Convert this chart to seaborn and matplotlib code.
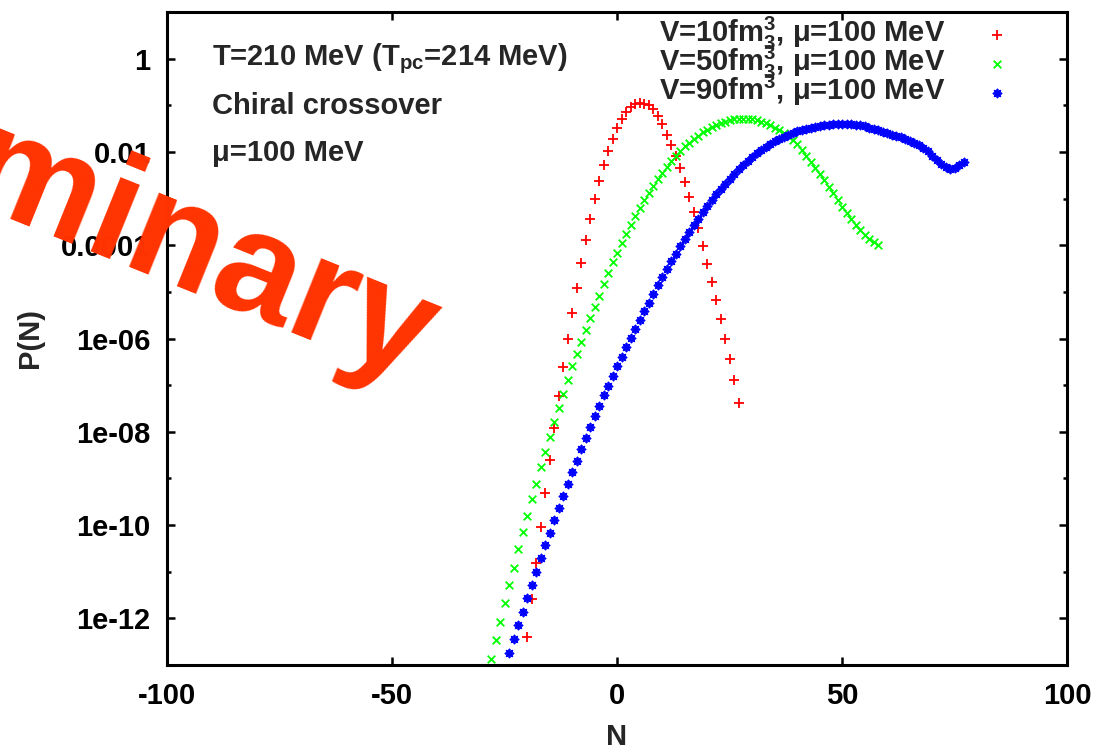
import numpy as np
import pandas as pd
import matplotlib
matplotlib.use("Agg")
import matplotlib.pyplot as plt
import seaborn as sns
from matplotlib.ticker import FixedLocator, FixedFormatter, NullFormatter

# ---------------- data ----------------
red_N = np.arange(-20, 28)
red_log10P = [-12.39, -11.58, -10.81, -10.05, -9.31, -8.60, -7.91, -7.24, -6.62, -6.02,
              -5.46, -4.91, -4.38, -3.89, -3.43, -3.00, -2.62, -2.28, -1.98, -1.72,
              -1.49, -1.30, -1.15, -1.04, -0.98, -0.96, -0.97, -1.00, -1.08, -1.22,
              -1.40, -1.63, -1.85, -2.08, -2.35, -2.64, -2.96, -3.29, -3.64, -4.02,
              -4.40, -4.78, -5.18, -5.59, -6.00, -6.44, -6.90, -7.39]

green_N = np.arange(-28, 59)
green_log10P = [-12.88, -12.47, -12.08, -11.68, -11.29, -10.91, -10.52, -10.15, -9.80, -9.45,
                -9.11, -8.76, -8.44, -8.11, -7.80, -7.49, -7.19, -6.89, -6.60, -6.33,
                -6.07, -5.82, -5.57, -5.33, -5.09, -4.84, -4.59, -4.37, -4.16, -3.95,
                -3.75, -3.56, -3.38, -3.20, -3.04, -2.88, -2.73, -2.59, -2.45, -2.33,
                -2.20, -2.09, -1.98, -1.88, -1.80, -1.72, -1.65, -1.58, -1.52, -1.47,
                -1.42, -1.38, -1.35, -1.32, -1.30, -1.29, -1.285, -1.29, -1.30, -1.32,
                -1.35, -1.39, -1.43, -1.48, -1.54, -1.60, -1.66, -1.74, -1.84, -1.96,
                -2.09, -2.22, -2.35, -2.48, -2.61, -2.75, -2.89, -3.03, -3.17, -3.30,
                -3.43, -3.56, -3.68, -3.78, -3.87, -3.94, -4.00]

blue_N = np.arange(-24, 78)
blue_log10P = [-12.75, -12.45, -12.15, -11.86, -11.56, -11.29, -11.00, -10.71, -10.42, -10.16,
               -9.90, -9.64, -9.38, -9.12, -8.87, -8.62, -8.37, -8.13, -7.90, -7.67,
               -7.44, -7.22, -7.01, -6.80, -6.59, -6.39, -6.19, -5.99, -5.80, -5.61,
               -5.42, -5.23, -5.04, -4.86, -4.68, -4.51, -4.34, -4.18, -4.02, -3.87,
               -3.72, -3.57, -3.43, -3.29, -3.16, -3.03, -2.91, -2.79, -2.68, -2.57,
               -2.47, -2.37, -2.28, -2.19, -2.11, -2.03, -1.96, -1.89, -1.83, -1.77,
               -1.72, -1.67, -1.63, -1.59, -1.56, -1.53, -1.50, -1.48, -1.46, -1.44,
               -1.43, -1.42, -1.41, -1.40, -1.40, -1.40, -1.41, -1.42, -1.43, -1.45,
               -1.48, -1.51, -1.54, -1.57, -1.60, -1.63, -1.66, -1.69, -1.73, -1.77,
               -1.81, -1.85, -1.91, -1.99, -2.08, -2.17, -2.25, -2.32, -2.36, -2.34,
               -2.29, -2.22]

series_labels = [r"V=10fm$^3_3$, μ=100 MeV",
                 r"V=50fm$^3_3$, μ=100 MeV",
                 r"V=90fm$^3$, μ=100 MeV"]
series_colors = ["#ff0000", "#00ff00", "#0000ff"]

x_ticks = [-100, -50, 0, 50, 100]
x_tick_labels = ["-100", "-50", "0", "50", "100"]
y_ticks = [1, 1e-2, 1e-4, 1e-6, 1e-8, 1e-10, 1e-12]
y_tick_labels = ["1", "0.01", "0.0001", "1e-06", "1e-08", "1e-10", "1e-12"]
y_minor_ticks = [1e-1, 1e-3, 1e-5, 1e-7, 1e-9, 1e-11]

info_lines = [r"T=210 MeV (T$_{pc}$=214 MeV)", "Chiral crossover", "μ=100 MeV"]
watermark = "Preliminary"

# ---------------- style ----------------
sns.set_style("ticks", {"xtick.direction": "in", "ytick.direction": "in"})
plt.rcParams["font.family"] = ["Liberation Sans", "DejaVu Sans"]
plt.rcParams["font.weight"] = "bold"
plt.rcParams["mathtext.default"] = "regular"
FS = 21

W, H = 1099, 752
fig = plt.figure(figsize=(W / 100, H / 100), dpi=100)
ax = fig.add_axes([167 / W, 87 / H, 900 / W, 653 / H])

frames = []
for N, lp, lab in zip([red_N, green_N, blue_N], [red_log10P, green_log10P, blue_log10P], series_labels):
    frames.append(pd.DataFrame({"N": N, "P": 10.0 ** np.asarray(lp), "series": lab}))
df = pd.concat(frames, ignore_index=True)

markers = ["+", "x", (8, 2, 0)]
sizes = [42, 30, 32]
for lab, col, mk, sz in zip(series_labels, series_colors, markers, sizes):
    sub = df[df["series"] == lab]
    sns.scatterplot(data=sub, x="N", y="P", ax=ax, marker=mk, color=col, s=sz,
                    linewidth=1.3, label=lab, zorder=3)

ax.set_yscale("log")
ax.set_xlim(-100, 100)
ax.set_ylim(1e-13, 10)

ax.xaxis.set_major_locator(FixedLocator(x_ticks))
ax.xaxis.set_major_formatter(FixedFormatter(x_tick_labels))
ax.yaxis.set_major_locator(FixedLocator(y_ticks))
ax.yaxis.set_major_formatter(FixedFormatter(y_tick_labels))
ax.yaxis.set_minor_locator(FixedLocator(y_minor_ticks))
ax.yaxis.set_minor_formatter(NullFormatter())
ax.xaxis.set_minor_locator(FixedLocator([]))

ax.tick_params(which="both", direction="in", top=True, right=True, width=1.8,
               labelsize=FS, colors="black")
ax.tick_params(which="major", length=6)
ax.tick_params(which="minor", length=3)
ax.tick_params(axis="x", pad=12.5)
ax.tick_params(axis="y", pad=12)
for sp in ax.spines.values():
    sp.set_linewidth(2.2)
    sp.set_color("black")

ax.set_xlabel("N", fontsize=FS, fontweight="bold")
ax.set_ylabel("P(N)", fontsize=FS, fontweight="bold")
ax.xaxis.set_label_coords(0.5, (665 - 737) / 653)
ax.xaxis.label.set_verticalalignment("center")
ax.yaxis.set_label_coords((30 - 167) / 900, 0.5)
ax.yaxis.label.set_rotation_mode("default")
ax.yaxis.label.set_verticalalignment("center")
ax.yaxis.label.set_horizontalalignment("center")

# info text block
for txt, yb in zip(info_lines, [65, 114, 161]):
    ax.text((212 - 167) / 900, (665 - yb) / 653, txt, transform=ax.transAxes,
            ha="left", va="baseline", fontsize=FS, fontweight="bold")

leg = ax.legend(loc="upper right", bbox_to_anchor=((1012 - 167) / 900, (665 - 15) / 653),
                markerfirst=False, frameon=False, fontsize=FS, handlelength=1.0,
                handletextpad=1.3, borderpad=0, borderaxespad=0, labelspacing=-0.28)

# watermark (anchored at the end of its baseline)
fig.text(412 / W, 1 - 385 / H, watermark, rotation=-22, rotation_mode="anchor",
         ha="right", va="baseline", color="#ff3300", fontsize=108,
         family="Liberation Sans", fontweight="bold", zorder=10)

fig.savefig("out.png", dpi=100)
